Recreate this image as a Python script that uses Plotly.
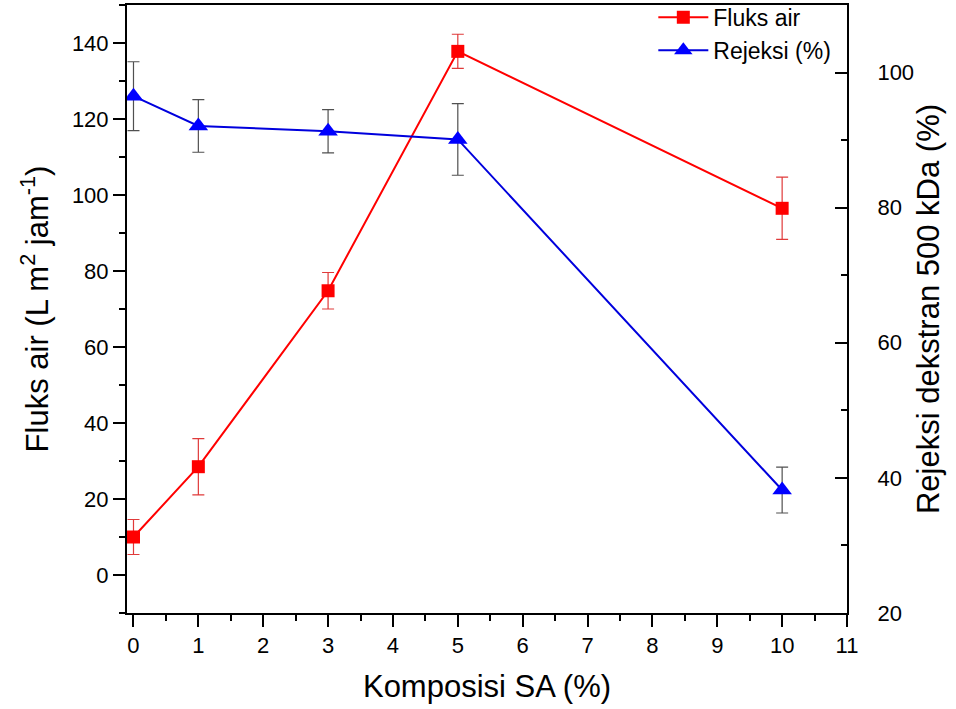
import plotly.graph_objects as go

# Composition of SA (%)
komposisi = [0, 1, 3, 5, 10]

# Water flux (L m2 jam-1) with standard deviations
fluks_air = [10.0, 28.5, 74.8, 137.8, 96.5]
fluks_err = [4.6, 7.4, 4.8, 4.5, 8.2]

# Dextran 500 kDa rejection (%) with standard deviations
rejeksi = [96.5, 92.1, 91.3, 90.1, 38.2]
rejeksi_err = [5.1, 3.9, 3.2, 5.3, 3.4]

FONT = "Liberation Sans, Arial, sans-serif"

fig = go.Figure()

fig.add_trace(go.Scatter(
    x=komposisi, y=fluks_air, name="Fluks air", mode="lines+markers",
    line=dict(color="#ff0000", width=2),
    marker=dict(symbol="square", size=13, color="#ff0000"),
    error_y=dict(type="data", array=fluks_err, visible=True,
                 color="#e03a3a", thickness=1.2, width=6),
    yaxis="y",
))

fig.add_trace(go.Scatter(
    x=komposisi, y=rejeksi, name="Rejeksi (%)", mode="lines+markers",
    line=dict(color="#0000dd", width=2),
    marker=dict(symbol="triangle-up", size=17, color="#0000ff"),
    error_y=dict(type="data", array=rejeksi_err, visible=True,
                 color="#505050", thickness=1.2, width=6),
    yaxis="y2",
))

axis_common = dict(
    showline=True, linecolor="black", linewidth=2,
    showgrid=False, zeroline=False,
    tickcolor="black", tickwidth=2, ticklen=12,
    tickfont=dict(family=FONT, size=22, color="black"),
)

fig.update_layout(
    width=956, height=709,
    paper_bgcolor="white", plot_bgcolor="white",
    margin=dict(l=127, r=109, t=5, b=96, autoexpand=False),
    font=dict(family=FONT, color="black"),
    showlegend=True,
    legend=dict(
        x=0.731, y=1.015, xanchor="left", yanchor="top",
        bgcolor="rgba(0,0,0,0)", borderwidth=0,
        font=dict(family=FONT, size=23, color="black"),
        tracegroupgap=0, itemwidth=50,
    ),
    xaxis=dict(
        **axis_common,
        range=[-0.1, 11], tickmode="linear", tick0=0, dtick=1,
        ticks="outside", mirror=True,
        minor=dict(tick0=0, dtick=0.5, ticks="outside", ticklen=6,
                   tickwidth=2, tickcolor="black"),
        title=dict(text="Komposisi SA (%)", standoff=18,
                   font=dict(family=FONT, size=31, color="black")),
    ),
    yaxis=dict(
        **axis_common,
        range=[-10, 150], tickmode="linear", tick0=0, dtick=20,
        ticks="outside",
        minor=dict(tick0=0, dtick=10, ticks="outside", ticklen=6,
                   tickwidth=2, tickcolor="black"),
        title=dict(text="Fluks air (L m<sup>2</sup> jam<sup>-1</sup>)",
                   standoff=14,
                   font=dict(family=FONT, size=31, color="black")),
    ),
    yaxis2=dict(
        **axis_common,
        overlaying="y", side="right", anchor="x",
        range=[20, 110], tickmode="linear", tick0=20, dtick=20,
        ticks="inside", ticklabelstandoff=24,
        minor=dict(tick0=20, dtick=10, ticks="inside", ticklen=6,
                   tickwidth=2, tickcolor="black"),
        title=dict(text="Rejeksi dekstran 500 kDa (%)", standoff=4,
                   font=dict(family=FONT, size=31, color="black")),
    ),
)

fig.write_html("out.html")
